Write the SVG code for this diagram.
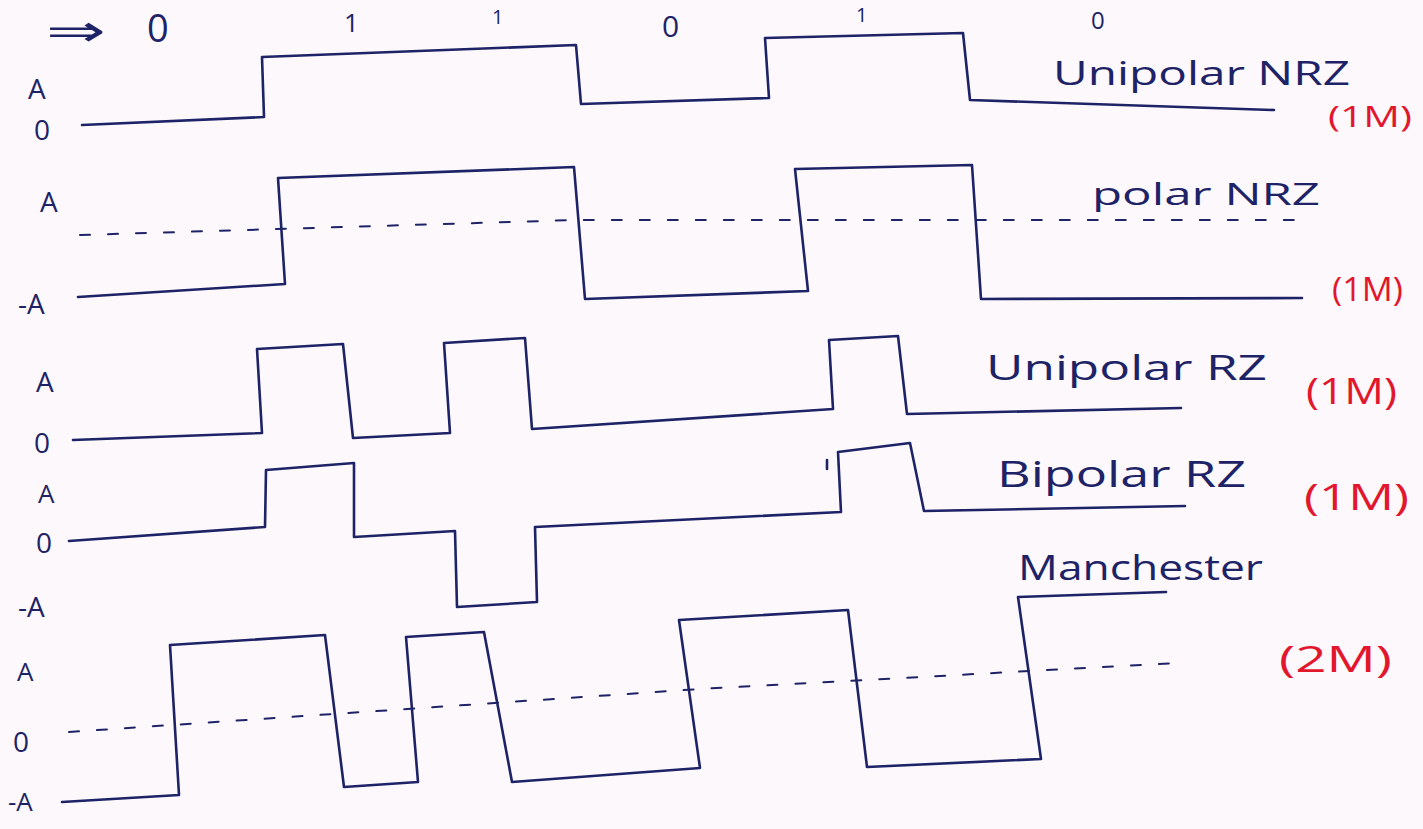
<svg xmlns="http://www.w3.org/2000/svg" width="1423" height="829" viewBox="0 0 1423 829">
<style>
.bg{fill:#fcf8fc}
.w{fill:none;stroke:#1d2366;stroke-width:2.6;stroke-linejoin:round;stroke-linecap:round}
.d{fill:none;stroke:#1d2366;stroke-width:2;stroke-dasharray:10 18;stroke-linecap:round}
.t{font-family:"Open Sans","Liberation Sans",sans-serif;fill:#1d2366;font-weight:400}
.r{font-family:"Open Sans","Liberation Sans",sans-serif;fill:#e2162c;font-weight:400}
</style>
<rect class="bg" x="0" y="0" width="1423" height="829"/>

<g id="bits">
<text class="t" x="46" y="46" font-size="44" textLength="60" lengthAdjust="spacingAndGlyphs">⇒</text>
<text class="t" x="147" y="42" font-size="38">0</text>
<text class="t" x="344" y="32" font-size="26">1</text>
<text class="t" x="492" y="24" font-size="20">1</text>
<text class="t" x="662" y="37" font-size="30">0</text>
<text class="t" x="856" y="22" font-size="20">1</text>
<text class="t" x="1091" y="29" font-size="24">0</text>
</g>

<g id="unipolar-nrz">
<text class="t" x="28" y="99" font-size="28">A</text>
<text class="t" x="34" y="140" font-size="28">0</text>
<polyline class="w" points="82,125 264,117 262,57 576,45 581,104 769,98 765,38 963,33 970,100 1274,110"/>
<text class="t" x="1053" y="85" font-size="32" textLength="297" lengthAdjust="spacingAndGlyphs">Unipolar NRZ</text>
<text class="r" x="1328" y="127" font-size="30" textLength="84" lengthAdjust="spacingAndGlyphs">(1M)</text>
</g>

<g id="polar-nrz">
<text class="t" x="40" y="212" font-size="28">A</text>
<text class="t" x="18" y="314" font-size="28">-A</text>
<polyline class="d" points="80,235 575,220 1297,220"/>
<polyline class="w" points="78,297 285,284 278,178 574,167 585,299 808,291 795,169 972,165 981,299 1302,298"/>
<text class="t" x="1092" y="205" font-size="31" textLength="228" lengthAdjust="spacingAndGlyphs">polar NRZ</text>
<text class="r" x="1332" y="301" font-size="32" textLength="71" lengthAdjust="spacingAndGlyphs">(1M)</text>
</g>

<g id="unipolar-rz">
<text class="t" x="36" y="392" font-size="28">A</text>
<text class="t" x="34" y="453" font-size="28">0</text>
<polyline class="w" points="73,440 262,433 257,349 343,344 353,438 450,433 444,343 525,338 532,429 833,409 829,340 898,336 907,414 1181,408"/>
<text class="t" x="986" y="380" font-size="34" textLength="281" lengthAdjust="spacingAndGlyphs">Unipolar RZ</text>
<text class="r" x="1306" y="404" font-size="36" textLength="91" lengthAdjust="spacingAndGlyphs">(1M)</text>
</g>

<g id="bipolar-rz">
<text class="t" x="38" y="503" font-size="26">A</text>
<text class="t" x="36" y="553" font-size="28">0</text>
<text class="t" x="18" y="617" font-size="28">-A</text>
<polyline class="w" points="69,541 265,527 266,470 354,463 354,537 455,531 457,607 537,602 535,527 841,512 838,452 910,443 924,511 1185,506"/>
<line class="w" x1="827" y1="460" x2="827" y2="469"/>
<text class="t" x="997" y="487" font-size="36" textLength="249" lengthAdjust="spacingAndGlyphs">Bipolar RZ</text>
<text class="r" x="1304" y="510" font-size="36" textLength="105" lengthAdjust="spacingAndGlyphs">(1M)</text>
</g>

<g id="manchester">
<text class="t" x="17" y="681" font-size="26">A</text>
<text class="t" x="13" y="752" font-size="28">0</text>
<text class="t" x="8" y="811" font-size="26">-A</text>
<polyline class="d" points="69,732 700,689 1177,663"/>
<polyline class="w" points="62,802 179,795 170,645 325,635 344,787 418,782 406,637 484,632 512,782 700,768 679,620 848,610 867,767 1041,759 1018,597 1166,592"/>
<text class="t" x="1018" y="580" font-size="34" textLength="245" lengthAdjust="spacingAndGlyphs">Manchester</text>
<text class="r" x="1279" y="672" font-size="36" textLength="113" lengthAdjust="spacingAndGlyphs">(2M)</text>
</g>
</svg>
